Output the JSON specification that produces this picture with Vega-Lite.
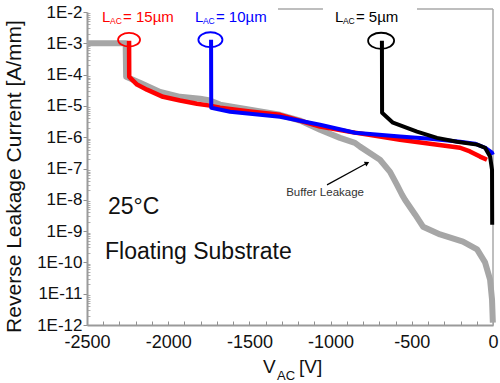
{
  "$schema": "https://vega.github.io/schema/vega-lite/v6.json",
  "width": 406,
  "height": 313,
  "autosize": {"type": "none"},
  "padding": {"left": 87, "top": 12, "right": 7, "bottom": 58},
  "background": "white",
  "config": {"view": {"stroke": null}, "font": "Liberation Sans"},
  "datasets": {
    "curves": [
      {"s": "g", "V": -2500, "I": 1.0e-3},
      {"s": "g", "V": -2262, "I": 1.0e-3},
      {"s": "g", "V": -2259, "I": 8.5e-5},
      {"s": "g", "V": -2174, "I": 5.5e-5},
      {"s": "g", "V": -2050, "I": 2.8e-5},
      {"s": "g", "V": -1927, "I": 1.95e-5},
      {"s": "g", "V": -1804, "I": 1.7e-5},
      {"s": "g", "V": -1743, "I": 1.48e-5},
      {"s": "g", "V": -1681, "I": 1.1e-5},
      {"s": "g", "V": -1496, "I": 7.6e-6},
      {"s": "g", "V": -1312, "I": 5.2e-6},
      {"s": "g", "V": -1188, "I": 3.4e-6},
      {"s": "g", "V": -1065, "I": 1.74e-6},
      {"s": "g", "V": -942, "I": 9.5e-7},
      {"s": "g", "V": -850, "I": 6.6e-7},
      {"s": "g", "V": -819, "I": 5.0e-7},
      {"s": "g", "V": -696, "I": 1.9e-7},
      {"s": "g", "V": -634, "I": 7.8e-8},
      {"s": "g", "V": -591, "I": 3.0e-8},
      {"s": "g", "V": -560, "I": 1.45e-8},
      {"s": "g", "V": -542, "I": 1.0e-8},
      {"s": "g", "V": -480, "I": 3.4e-9},
      {"s": "g", "V": -431, "I": 1.38e-9},
      {"s": "g", "V": -326, "I": 7.8e-10},
      {"s": "g", "V": -185, "I": 4.6e-10},
      {"s": "g", "V": -98, "I": 2.6e-10},
      {"s": "g", "V": -49, "I": 1.0e-10},
      {"s": "g", "V": -18, "I": 2.8e-11},
      {"s": "g", "V": -6, "I": 6.5e-12},
      {"s": "g", "V": -1, "I": 1.2e-12},
      {"s": "r", "V": -2241, "I": 1.2e-3},
      {"s": "r", "V": -2240, "I": 8.5e-5},
      {"s": "r", "V": -2192, "I": 4.8e-5},
      {"s": "r", "V": -2131, "I": 3.3e-5},
      {"s": "r", "V": -2032, "I": 1.95e-5},
      {"s": "r", "V": -1927, "I": 1.48e-5},
      {"s": "r", "V": -1823, "I": 1.17e-5},
      {"s": "r", "V": -1743, "I": 1.02e-5},
      {"s": "r", "V": -1681, "I": 8.7e-6},
      {"s": "r", "V": -1496, "I": 6.6e-6},
      {"s": "r", "V": -1312, "I": 5.2e-6},
      {"s": "r", "V": -1065, "I": 2.2e-6},
      {"s": "r", "V": -880, "I": 1.48e-6},
      {"s": "r", "V": -696, "I": 1.05e-6},
      {"s": "r", "V": -573, "I": 8.3e-7},
      {"s": "r", "V": -388, "I": 6.2e-7},
      {"s": "r", "V": -203, "I": 4.6e-7},
      {"s": "r", "V": -142, "I": 3.5e-7},
      {"s": "r", "V": -80, "I": 2.4e-7},
      {"s": "r", "V": -37, "I": 1.9e-7},
      {"s": "b", "V": -1736, "I": 1.3e-3},
      {"s": "b", "V": -1735, "I": 8.7e-6},
      {"s": "b", "V": -1619, "I": 6.5e-6},
      {"s": "b", "V": -1496, "I": 5.6e-6},
      {"s": "b", "V": -1312, "I": 4.5e-6},
      {"s": "b", "V": -1065, "I": 2.5e-6},
      {"s": "b", "V": -850, "I": 1.38e-6},
      {"s": "b", "V": -573, "I": 1.05e-6},
      {"s": "b", "V": -388, "I": 8.9e-7},
      {"s": "b", "V": -203, "I": 7.2e-7},
      {"s": "b", "V": -111, "I": 6.2e-7},
      {"s": "b", "V": -49, "I": 4.6e-7},
      {"s": "b", "V": -6, "I": 3.2e-7},
      {"s": "b", "V": -1, "I": 2.75e-7},
      {"s": "k", "V": -684, "I": 1.2e-3},
      {"s": "k", "V": -683, "I": 6.0e-6},
      {"s": "k", "V": -616, "I": 2.9e-6},
      {"s": "k", "V": -468, "I": 1.5e-6},
      {"s": "k", "V": -345, "I": 9.5e-7},
      {"s": "k", "V": -222, "I": 7.2e-7},
      {"s": "k", "V": -98, "I": 5.8e-7},
      {"s": "k", "V": -49, "I": 4.6e-7},
      {"s": "k", "V": -18, "I": 2.4e-7},
      {"s": "k", "V": -6, "I": 9.1e-8},
      {"s": "k", "V": -5, "I": 1.6e-9}
    ],
    "frame": [
      {"V": -1324, "V2": -1047, "I": 0.0125, "I2": 0.0125},
      {"V": -468, "V2": 0, "I": 0.0125, "I2": 0.0125},
      {"V": 0, "V2": 0, "I": 1e-12, "I2": 0.0125}
    ],
    "ellipses": [
      {"s": "r", "V": -2241, "I": 1.3e-3},
      {"s": "b", "V": -1740, "I": 1.3e-3},
      {"s": "k", "V": -689, "I": 1.2e-3}
    ],
    "arrow": [
      {"V": -1022, "I": 3.0e-8, "V2": -775, "I2": 1.5e-7}
    ],
    "texts": [
      {"k": "title", "s": "k", "t": "V", "V": -1416, "I": 4.4e-14},
      {"k": "titlesub", "s": "k", "t": "AC", "V": -1330, "I": 2.4e-14},
      {"k": "title", "s": "k", "t": "[V]", "V": -1195, "I": 4.4e-14},
      {"k": "lab", "s": "r", "t": "L", "V": -2408, "I": 7.1e-3},
      {"k": "labsub", "s": "r", "t": "AC", "V": -2358, "I": 5.0e-3},
      {"k": "lab", "s": "r", "t": "= 15µm", "V": -2278, "I": 7.1e-3},
      {"k": "lab", "s": "b", "t": "L", "V": -1835, "I": 7.1e-3},
      {"k": "labsub", "s": "b", "t": "AC", "V": -1786, "I": 5.0e-3},
      {"k": "lab", "s": "b", "t": "= 10µm", "V": -1706, "I": 7.1e-3},
      {"k": "lab", "s": "k", "t": "L", "V": -973, "I": 7.1e-3},
      {"k": "labsub", "s": "k", "t": "AC", "V": -924, "I": 5.0e-3},
      {"k": "lab", "s": "k", "t": "= 5µm", "V": -844, "I": 7.1e-3},
      {"k": "note", "s": "k", "t": "25°C", "V": -2371, "I": 6.0e-9},
      {"k": "note", "s": "k", "t": "Floating Substrate", "V": -2389, "I": 2.2e-10},
      {"k": "small", "s": "k", "t": "Buffer Leakage", "V": -1034, "I": 1.7e-8}
    ]
  },
  "resolve": {"axis": {"x": "independent", "y": "independent"}},
  "layer": [
    {
      "data": {"name": "frame"},
      "mark": {"type": "rule", "color": "#a8a8a8", "strokeWidth": 1.5},
      "encoding": {
        "x": {"field": "V", "type": "quantitative", "scale": {"domain": [-2500, 0], "nice": false, "zero": false},
          "axis": {"values": [-2500,-2400,-2300,-2200,-2100,-2000,-1900,-1800,-1700,-1600,-1500,-1400,-1300,-1200,-1100,-1000,-900,-800,-700,-600,-500,-400,-300,-200,-100,0],
            "labelExpr": "datum.value % 500 == 0 ? toString(datum.value) : ''",
            "title": null, "grid": false, "tickSize": -4, "tickColor": "#909090", "domainColor": "#9a9a9a", "domainWidth": 2,
            "labelFontSize": 18, "labelColor": "#111", "labelPadding": 12, "labelFlush": false, "labelOverlap": false}},
        "x2": {"field": "V2"},
        "y": {"field": "I", "type": "quantitative", "scale": {"type": "log", "domain": [1e-12, 1e-2], "nice": false},
          "axis": {"orient": "left", "values": [2e-12,3e-12,4e-12,5e-12,6e-12,7e-12,8e-12,9e-12,2e-11,3e-11,4e-11,5e-11,6e-11,7e-11,8e-11,9e-11,2e-10,3e-10,4e-10,5e-10,6e-10,7e-10,8e-10,9e-10,2e-9,3e-9,4e-9,5e-9,6e-9,7e-9,8e-9,9e-9,2e-8,3e-8,4e-8,5e-8,6e-8,7e-8,8e-8,9e-8,2e-7,3e-7,4e-7,5e-7,6e-7,7e-7,8e-7,9e-7,2e-6,3e-6,4e-6,5e-6,6e-6,7e-6,8e-6,9e-6,2e-5,3e-5,4e-5,5e-5,6e-5,7e-5,8e-5,9e-5,2e-4,3e-4,4e-4,5e-4,6e-4,7e-4,8e-4,9e-4,2e-3,3e-3,4e-3,5e-3,6e-3,7e-3,8e-3,9e-3],
            "labels": false, "domain": false, "grid": false, "title": null, "tickSize": -3, "tickColor": "#b0b0b0", "tickWidth": 1}},
        "y2": {"field": "I2"}
      }
    },
    {
      "data": {"name": "curves"},
      "transform": [{"filter": "datum.s === 'g'"}],
      "mark": {"type": "line", "color": "#a6a6a6", "strokeWidth": 6, "strokeJoin": "round"},
      "encoding": {
        "x": {"field": "V", "type": "quantitative", "scale": {"domain": [-2500, 0], "nice": false, "zero": false}, "axis": null},
        "y": {"field": "I", "type": "quantitative", "scale": {"type": "log", "domain": [1e-12, 1e-2], "nice": false},
          "axis": {"orient": "left", "values": [1e-12,1e-11,1e-10,1e-9,1e-8,1e-7,1e-6,1e-5,1e-4,1e-3,1e-2],
            "labelExpr": "'1E' + round(log(datum.value)/LN10)",
            "title": "Reverse Leakage Current [A/mm]", "titleFontSize": 21, "titleFontWeight": "normal", "titleColor": "#111", "titlePadding": 12, "titleY": 164,
            "grid": false, "tickSize": 4, "tickColor": "#909090", "domainColor": "#9a9a9a", "domainWidth": 2,
            "labelFontSize": 17, "labelColor": "#111", "labelPadding": 1, "labelFlush": false, "labelOverlap": false}}
      }
    },
    {
      "data": {"name": "curves"},
      "transform": [{"filter": "datum.s === 'r'"}],
      "mark": {"type": "line", "color": "#ff0000", "strokeWidth": 4.5, "strokeJoin": "round"},
      "encoding": {
        "x": {"field": "V", "type": "quantitative", "scale": {"domain": [-2500, 0], "nice": false, "zero": false}, "axis": null},
        "y": {"field": "I", "type": "quantitative", "scale": {"type": "log", "domain": [1e-12, 1e-2], "nice": false}, "axis": null}
      }
    },
    {
      "data": {"name": "curves"},
      "transform": [{"filter": "datum.s === 'b'"}],
      "mark": {"type": "line", "color": "#0000ff", "strokeWidth": 4, "strokeJoin": "round"},
      "encoding": {
        "x": {"field": "V", "type": "quantitative", "scale": {"domain": [-2500, 0], "nice": false, "zero": false}, "axis": null},
        "y": {"field": "I", "type": "quantitative", "scale": {"type": "log", "domain": [1e-12, 1e-2], "nice": false}, "axis": null}
      }
    },
    {
      "data": {"name": "curves"},
      "transform": [{"filter": "datum.s === 'k'"}],
      "mark": {"type": "line", "color": "#000000", "strokeWidth": 4, "strokeJoin": "round"},
      "encoding": {
        "x": {"field": "V", "type": "quantitative", "scale": {"domain": [-2500, 0], "nice": false, "zero": false}, "axis": null},
        "y": {"field": "I", "type": "quantitative", "scale": {"type": "log", "domain": [1e-12, 1e-2], "nice": false}, "axis": null}
      }
    },
    {
      "data": {"name": "ellipses"},
      "mark": {"type": "point", "shape": "M-1,0A1,0.62,0,1,0,1,0A1,0.62,0,1,0,-1,0Z", "filled": false, "strokeWidth": 1.8, "opacity": 1},
      "encoding": {
        "x": {"field": "V", "type": "quantitative", "scale": {"domain": [-2500, 0], "nice": false, "zero": false}, "axis": null},
        "y": {"field": "I", "type": "quantitative", "scale": {"type": "log", "domain": [1e-12, 1e-2], "nice": false}, "axis": null},
        "color": {"field": "s", "type": "nominal", "scale": {"domain": ["g", "r", "b", "k"], "range": ["#a6a6a6", "#ff0000", "#0000ff", "#000000"]}, "legend": null},
        "size": {"field": "s", "type": "nominal", "scale": {"domain": ["r", "b", "k"], "range": [484, 676, 484]}, "legend": null}
      }
    },
    {
      "data": {"name": "arrow"},
      "mark": {"type": "rule", "color": "#000000", "strokeWidth": 1.2},
      "encoding": {
        "x": {"field": "V", "type": "quantitative", "scale": {"domain": [-2500, 0], "nice": false, "zero": false}, "axis": null},
        "x2": {"field": "V2"},
        "y": {"field": "I", "type": "quantitative", "scale": {"type": "log", "domain": [1e-12, 1e-2], "nice": false}, "axis": null},
        "y2": {"field": "I2"}
      }
    },
    {
      "data": {"name": "arrow"},
      "mark": {"type": "point", "shape": "triangle-up", "filled": true, "color": "#000000", "size": 28, "angle": 62, "opacity": 1},
      "encoding": {
        "x": {"field": "V2", "type": "quantitative", "scale": {"domain": [-2500, 0], "nice": false, "zero": false}, "axis": null},
        "y": {"field": "I2", "type": "quantitative", "scale": {"type": "log", "domain": [1e-12, 1e-2], "nice": false}, "axis": null}
      }
    },
    {
      "data": {"name": "texts"},
      "transform": [{"filter": "datum.k === 'title'"}],
      "mark": {"type": "text", "align": "left", "baseline": "middle", "fontSize": 19, "color": "#111"},
      "encoding": {
        "x": {"field": "V", "type": "quantitative", "scale": {"domain": [-2500, 0], "nice": false, "zero": false}, "axis": null},
        "y": {"field": "I", "type": "quantitative", "scale": {"type": "log", "domain": [1e-12, 1e-2], "nice": false}, "axis": null},
        "text": {"field": "t"}
      }
    },
    {
      "data": {"name": "texts"},
      "transform": [{"filter": "datum.k === 'titlesub'"}],
      "mark": {"type": "text", "align": "left", "baseline": "middle", "fontSize": 13, "color": "#111"},
      "encoding": {
        "x": {"field": "V", "type": "quantitative", "scale": {"domain": [-2500, 0], "nice": false, "zero": false}, "axis": null},
        "y": {"field": "I", "type": "quantitative", "scale": {"type": "log", "domain": [1e-12, 1e-2], "nice": false}, "axis": null},
        "text": {"field": "t"}
      }
    },
    {
      "data": {"name": "texts"},
      "transform": [{"filter": "datum.k === 'lab'"}],
      "mark": {"type": "text", "align": "left", "baseline": "middle", "fontSize": 15},
      "encoding": {
        "x": {"field": "V", "type": "quantitative", "scale": {"domain": [-2500, 0], "nice": false, "zero": false}, "axis": null},
        "y": {"field": "I", "type": "quantitative", "scale": {"type": "log", "domain": [1e-12, 1e-2], "nice": false}, "axis": null},
        "text": {"field": "t"},
        "color": {"field": "s", "type": "nominal", "scale": {"domain": ["g", "r", "b", "k"], "range": ["#a6a6a6", "#ff0000", "#0000ff", "#000000"]}, "legend": null}
      }
    },
    {
      "data": {"name": "texts"},
      "transform": [{"filter": "datum.k === 'labsub'"}],
      "mark": {"type": "text", "align": "left", "baseline": "middle", "fontSize": 8.5},
      "encoding": {
        "x": {"field": "V", "type": "quantitative", "scale": {"domain": [-2500, 0], "nice": false, "zero": false}, "axis": null},
        "y": {"field": "I", "type": "quantitative", "scale": {"type": "log", "domain": [1e-12, 1e-2], "nice": false}, "axis": null},
        "text": {"field": "t"},
        "color": {"field": "s", "type": "nominal", "scale": {"domain": ["g", "r", "b", "k"], "range": ["#a6a6a6", "#ff0000", "#0000ff", "#000000"]}, "legend": null}
      }
    },
    {
      "data": {"name": "texts"},
      "transform": [{"filter": "datum.k === 'note'"}],
      "mark": {"type": "text", "align": "left", "baseline": "middle", "fontSize": 23, "color": "#111"},
      "encoding": {
        "x": {"field": "V", "type": "quantitative", "scale": {"domain": [-2500, 0], "nice": false, "zero": false}, "axis": null},
        "y": {"field": "I", "type": "quantitative", "scale": {"type": "log", "domain": [1e-12, 1e-2], "nice": false}, "axis": null},
        "text": {"field": "t"}
      }
    },
    {
      "data": {"name": "texts"},
      "transform": [{"filter": "datum.k === 'small'"}],
      "mark": {"type": "text", "align": "center", "baseline": "middle", "fontSize": 11.5, "color": "#333"},
      "encoding": {
        "x": {"field": "V", "type": "quantitative", "scale": {"domain": [-2500, 0], "nice": false, "zero": false}, "axis": null},
        "y": {"field": "I", "type": "quantitative", "scale": {"type": "log", "domain": [1e-12, 1e-2], "nice": false}, "axis": null},
        "text": {"field": "t"}
      }
    }
  ]
}
